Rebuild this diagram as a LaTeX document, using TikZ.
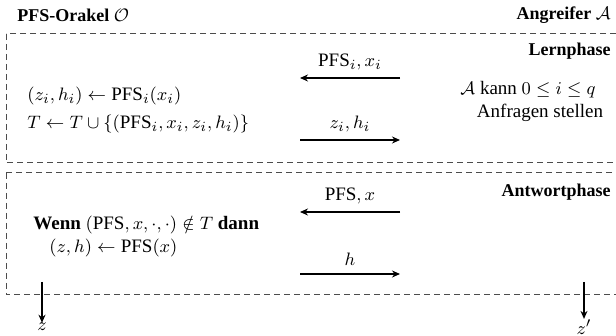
\documentclass[tikz,border=0pt]{standalone}
\usepackage{fontspec}
\setmainfont{Liberation Serif}
\usetikzlibrary{arrows.meta}
\tikzset{
  box/.style={draw=black!70, densely dashed, line width=0.5pt},
  msg/.style={line width=1.1pt, -{Stealth[length=4pt,width=3.5pt]}},
  hdr/.style={font=\fontsize{9}{11}\selectfont\bfseries, inner sep=0pt},
  txt/.style={font=\fontsize{9.5}{11}\selectfont, inner sep=0pt},
  lbl/.style={font=\fontsize{9.5}{11}\selectfont, inner sep=0pt, above=3.5pt},
}
\begin{document}
\begin{tikzpicture}[x=0.5pt,y=-0.5pt]
\useasboundingbox (0,0) rectangle (616,336);
\fill[white] (0,0) rectangle (616,336);
% headings
\node[hdr, anchor=west] (orakel) at (17,15) {PFS-Orakel $\mathcal{O}$};
\node[hdr, anchor=east] (angreifer) at (611,15) {Angreifer $\mathcal{A}$};
% boxes
\draw[box] (6,34) rectangle (617,163);
\draw[box] (6,173) rectangle (617,295);
% Lernphase
\node[hdr, anchor=east] (lern) at (611,51) {Lernphase};
\node[txt, anchor=west] (l1) at (27,96) {$(z_i,h_i) \leftarrow \mathrm{PFS}_i(x_i)$};
\node[txt, anchor=west] (l2) at (27,124) {$T \leftarrow T \cup \{(\mathrm{PFS}_i,x_i,z_i,h_i)\}$};
\node[txt] (a1) at (528,90) {$\mathcal{A}$ kann $0 \le i \le q$};
\node[txt] (a2) at (540,113) {Anfragen stellen};
\coordinate (m1r) at (400,78);
\coordinate (m1l) at (300,78);
\draw[msg] (m1r) -- node[lbl] (m1t) {$\mathrm{PFS}_i, x_i$} (m1l);
\coordinate (m2l) at (300,140);
\coordinate (m2r) at (400,140);
\draw[msg] (m2l) -- node[lbl] (m2t) {$z_i, h_i$} (m2r);
% Antwortphase
\node[hdr, anchor=east] (antw) at (611,192) {Antwortphase};
\node[txt, anchor=west] (w1) at (33,225) {\textbf{Wenn} $(\mathrm{PFS},x,\cdot,\cdot)\notin T$\ \textbf{dann}};
\node[txt, anchor=west] (w2) at (49,248) {$(z,h) \leftarrow \mathrm{PFS}(x)$};
\coordinate (m3r) at (400,212);
\coordinate (m3l) at (300,212);
\draw[msg] (m3r) -- node[lbl] (m3t) {$\mathrm{PFS}, x$} (m3l);
\coordinate (m4l) at (300,274);
\coordinate (m4r) at (400,274);
\draw[msg] (m4l) -- node[lbl] (m4t) {$h$} (m4r);
% outputs
\coordinate (zs) at (42,282);
\node[txt] (z) at (42,327) {$z$};
\draw[msg] (zs) -- (z.north);
\coordinate (zps) at (584,282);
\node[txt] (zp) at (584,327) {$z'$};
\draw[msg] (zps) -- (zp.north);
\end{tikzpicture}
\end{document}
